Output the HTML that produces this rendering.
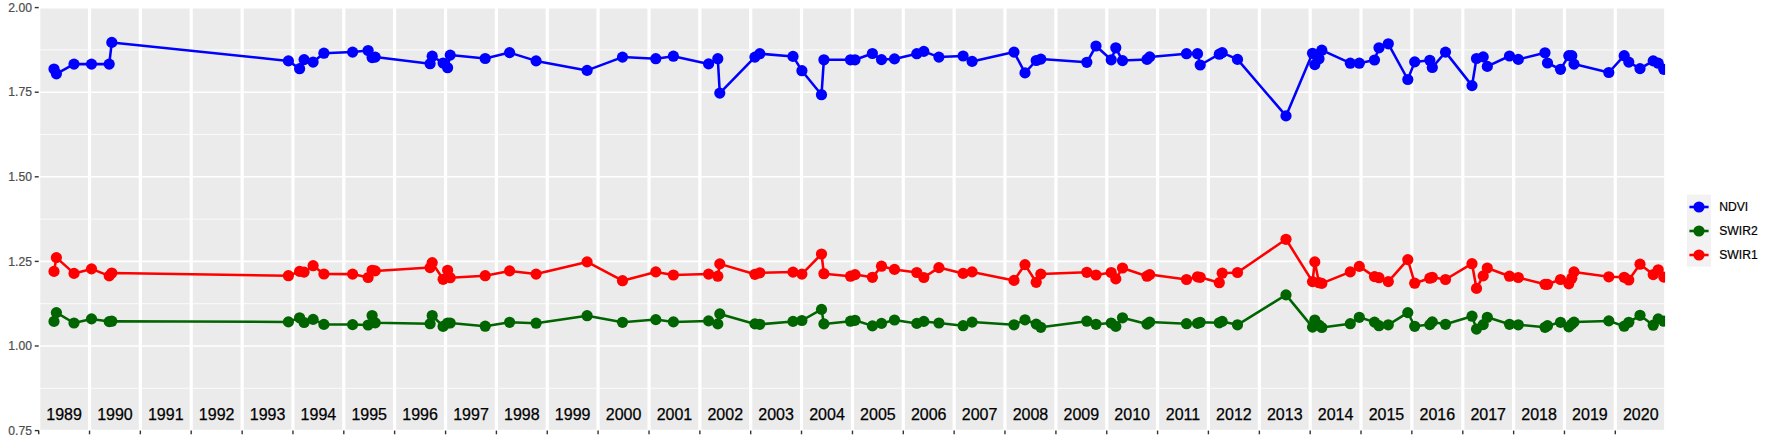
<!DOCTYPE html>
<html lang="en"><head><meta charset="utf-8"><title>Time series</title>
<style>html,body{margin:0;padding:0;background:#fff}svg{display:block}text{font-family:"Liberation Sans",Arial,Helvetica,sans-serif}.ya{font-size:12.15px;fill:#4d4d4d;text-anchor:end;stroke:#4d4d4d;stroke-width:0.2px}.xa{font-size:16px;fill:#000;text-anchor:middle;stroke:#000;stroke-width:0.25px}.lg{font-size:12.15px;fill:#000;stroke:#000;stroke-width:0.2px}</style></head><body>
<svg width="1773" height="442" viewBox="0 0 1773 442">
<rect width="1773" height="442" fill="#fff"/>
<defs><clipPath id="cp"><rect x="38.2" y="7.0" width="1626.90" height="424.00"/></clipPath></defs>
<rect x="38.7" y="7.6" width="1625.3999999999999" height="423.0" fill="#ebebeb"/>
<g clip-path="url(#cp)">
<g stroke="#fff" stroke-width="0.8">
<line x1="38.7" x2="1664.1" y1="49.90" y2="49.90"/>
<line x1="38.7" x2="1664.1" y1="134.50" y2="134.50"/>
<line x1="38.7" x2="1664.1" y1="219.10" y2="219.10"/>
<line x1="38.7" x2="1664.1" y1="303.70" y2="303.70"/>
<line x1="38.7" x2="1664.1" y1="388.30" y2="388.30"/>
</g>
<g stroke="#fff" stroke-width="1.6">
<line x1="38.7" x2="1664.1" y1="7.60" y2="7.60"/>
<line x1="38.7" x2="1664.1" y1="92.20" y2="92.20"/>
<line x1="38.7" x2="1664.1" y1="176.80" y2="176.80"/>
<line x1="38.7" x2="1664.1" y1="261.40" y2="261.40"/>
<line x1="38.7" x2="1664.1" y1="346.00" y2="346.00"/>
<line x1="38.7" x2="1664.1" y1="430.60" y2="430.60"/>
</g>
<g stroke="#fff" stroke-width="3.2">
<line x1="38.70" x2="38.70" y1="7.6" y2="430.6"/>
<line x1="89.53" x2="89.53" y1="7.6" y2="430.6"/>
<line x1="140.35" x2="140.35" y1="7.6" y2="430.6"/>
<line x1="191.18" x2="191.18" y1="7.6" y2="430.6"/>
<line x1="242.14" x2="242.14" y1="7.6" y2="430.6"/>
<line x1="292.97" x2="292.97" y1="7.6" y2="430.6"/>
<line x1="343.80" x2="343.80" y1="7.6" y2="430.6"/>
<line x1="394.62" x2="394.62" y1="7.6" y2="430.6"/>
<line x1="445.59" x2="445.59" y1="7.6" y2="430.6"/>
<line x1="496.41" x2="496.41" y1="7.6" y2="430.6"/>
<line x1="547.24" x2="547.24" y1="7.6" y2="430.6"/>
<line x1="598.07" x2="598.07" y1="7.6" y2="430.6"/>
<line x1="649.03" x2="649.03" y1="7.6" y2="430.6"/>
<line x1="699.86" x2="699.86" y1="7.6" y2="430.6"/>
<line x1="750.69" x2="750.69" y1="7.6" y2="430.6"/>
<line x1="801.51" x2="801.51" y1="7.6" y2="430.6"/>
<line x1="852.48" x2="852.48" y1="7.6" y2="430.6"/>
<line x1="903.30" x2="903.30" y1="7.6" y2="430.6"/>
<line x1="954.13" x2="954.13" y1="7.6" y2="430.6"/>
<line x1="1004.96" x2="1004.96" y1="7.6" y2="430.6"/>
<line x1="1055.92" x2="1055.92" y1="7.6" y2="430.6"/>
<line x1="1106.75" x2="1106.75" y1="7.6" y2="430.6"/>
<line x1="1157.57" x2="1157.57" y1="7.6" y2="430.6"/>
<line x1="1208.40" x2="1208.40" y1="7.6" y2="430.6"/>
<line x1="1259.37" x2="1259.37" y1="7.6" y2="430.6"/>
<line x1="1310.19" x2="1310.19" y1="7.6" y2="430.6"/>
<line x1="1361.02" x2="1361.02" y1="7.6" y2="430.6"/>
<line x1="1411.84" x2="1411.84" y1="7.6" y2="430.6"/>
<line x1="1462.81" x2="1462.81" y1="7.6" y2="430.6"/>
<line x1="1513.64" x2="1513.64" y1="7.6" y2="430.6"/>
<line x1="1564.46" x2="1564.46" y1="7.6" y2="430.6"/>
<line x1="1615.29" x2="1615.29" y1="7.6" y2="430.6"/>
</g>
<polyline fill="none" stroke="#0000ff" stroke-width="2.55" stroke-linejoin="round" points="54.0,69.0 56.4,73.8 74.0,64.1 91.5,64.1 109.2,64.1 111.8,42.4 288.4,60.9 299.6,68.7 304.1,59.6 313.1,62.1 323.9,53.2 352.6,52.1 368.1,50.5 372.1,57.6 375.2,57.1 430.1,63.7 432.2,56.2 443.1,63.0 447.6,67.7 450.2,55.1 485.2,58.5 509.6,52.6 536.1,60.9 587.1,70.4 622.5,57.1 655.8,58.7 673.4,56.2 708.6,63.9 717.8,58.7 719.8,93.1 754.9,57.1 759.8,53.7 793.0,56.4 801.9,70.7 821.5,94.7 823.9,59.8 850.5,59.8 855.0,59.8 872.4,53.5 881.5,59.6 894.5,58.9 916.8,53.7 923.8,51.4 938.9,57.1 963.1,56.0 972.1,61.4 1014.0,52.1 1025.0,72.9 1036.2,60.5 1040.8,59.1 1086.8,62.3 1096.0,46.0 1111.2,59.8 1115.8,47.8 1122.5,60.6 1147.0,59.4 1149.7,56.9 1186.5,53.7 1197.5,53.7 1200.2,65.0 1219.3,54.2 1222.2,52.6 1237.5,59.4 1286.0,115.9 1312.5,53.3 1314.8,64.6 1319.0,58.7 1321.8,50.2 1350.3,63.2 1359.3,63.2 1374.5,60.0 1379.0,47.8 1388.3,43.8 1407.8,79.5 1414.7,61.9 1429.8,60.3 1432.3,67.5 1445.5,52.1 1472.0,85.6 1476.5,58.5 1483.2,56.9 1487.3,66.4 1509.5,56.0 1518.3,59.4 1545.0,52.8 1547.5,63.0 1560.5,69.3 1568.8,55.7 1571.8,55.7 1574.0,64.1 1608.8,72.5 1624.2,55.7 1628.8,62.1 1640.0,68.6 1653.2,60.9 1658.2,63.2 1663.8,69.3"/>
<polyline fill="none" stroke="#006400" stroke-width="2.55" stroke-linejoin="round" points="54.0,321.4 56.4,312.6 74.0,323.0 91.5,318.9 109.2,321.6 111.8,321.2 288.4,321.9 299.6,317.8 304.1,322.5 313.1,319.4 323.9,324.4 352.6,324.6 368.1,325.0 372.1,315.5 375.2,322.8 430.1,323.7 432.2,315.5 443.1,326.4 447.6,323.0 450.2,323.0 485.2,326.2 509.6,322.3 536.1,323.2 587.1,315.7 622.5,322.3 655.8,319.6 673.4,321.9 708.6,320.9 717.8,323.9 719.8,313.9 754.9,323.9 759.8,324.3 793.0,321.4 801.9,320.5 821.5,309.4 823.9,323.9 850.5,321.2 855.0,320.3 872.4,325.9 881.5,323.4 894.5,320.0 916.8,323.4 923.8,321.4 938.9,323.0 963.1,325.7 972.1,322.1 1014.0,324.8 1025.0,319.8 1036.2,324.1 1040.8,327.3 1086.8,321.2 1096.0,324.3 1111.2,323.0 1115.8,326.4 1122.5,317.8 1147.0,324.1 1149.7,322.1 1186.5,323.7 1197.5,323.4 1200.2,322.3 1219.3,322.8 1222.2,321.4 1237.5,324.8 1286.0,294.9 1312.5,327.1 1314.8,320.0 1319.0,325.2 1321.8,327.5 1350.3,323.7 1359.3,317.3 1374.5,322.1 1379.0,325.7 1388.3,324.8 1407.8,312.6 1414.7,326.3 1429.8,324.6 1432.3,321.9 1445.5,324.3 1472.0,316.2 1476.5,329.1 1483.2,324.6 1487.3,317.3 1509.5,324.3 1518.3,324.8 1545.0,327.3 1547.5,325.7 1560.5,322.3 1568.8,326.8 1571.8,324.1 1574.0,322.1 1608.8,320.9 1624.2,326.2 1628.8,322.3 1640.0,315.3 1653.2,325.2 1658.2,318.9 1663.8,321.2"/>
<polyline fill="none" stroke="#ff0000" stroke-width="2.55" stroke-linejoin="round" points="54.0,271.4 56.4,257.6 74.0,273.4 91.5,268.9 109.2,275.9 111.8,273.0 288.4,275.7 299.6,271.4 304.1,272.1 313.1,265.7 323.9,274.0 352.6,274.1 368.1,277.5 372.1,270.3 375.2,270.9 430.1,267.6 432.2,262.6 443.1,279.3 447.6,270.3 450.2,277.7 485.2,275.7 509.6,270.9 536.1,274.1 587.1,261.9 622.5,280.7 655.8,271.9 673.4,275.0 708.6,274.1 717.8,276.2 719.8,263.9 754.9,274.3 759.8,272.8 793.0,272.1 801.9,274.1 821.5,254.0 823.9,273.7 850.5,276.2 855.0,274.6 872.4,277.3 881.5,266.2 894.5,269.4 916.8,272.5 923.8,277.5 938.9,267.6 963.1,273.4 972.1,271.9 1014.0,280.4 1025.0,264.6 1036.2,282.3 1040.8,274.1 1086.8,272.3 1096.0,275.0 1111.2,272.5 1115.8,278.9 1122.5,268.0 1147.0,276.2 1149.7,274.6 1186.5,279.5 1197.5,276.8 1200.2,277.3 1219.3,282.7 1222.2,273.2 1237.5,272.5 1286.0,239.3 1312.5,281.6 1314.8,261.9 1319.0,282.7 1321.8,283.4 1350.3,271.9 1359.3,266.4 1374.5,276.6 1379.0,277.7 1388.3,281.6 1407.8,259.6 1414.7,283.2 1429.8,278.2 1432.3,277.3 1445.5,279.5 1472.0,263.7 1476.5,288.4 1483.2,275.9 1487.3,268.0 1509.5,276.2 1518.3,277.5 1545.0,284.3 1547.5,284.3 1560.5,279.5 1568.8,283.8 1571.8,278.2 1574.0,271.9 1608.8,276.8 1624.2,277.3 1628.8,280.0 1640.0,264.2 1653.2,274.6 1658.2,269.8 1663.8,277.1"/>
<g fill="#0000ff">
<circle cx="54.0" cy="69.0" r="5.6"/>
<circle cx="56.4" cy="73.8" r="5.6"/>
<circle cx="74.0" cy="64.1" r="5.6"/>
<circle cx="91.5" cy="64.1" r="5.6"/>
<circle cx="109.2" cy="64.1" r="5.6"/>
<circle cx="111.8" cy="42.4" r="5.6"/>
<circle cx="288.4" cy="60.9" r="5.6"/>
<circle cx="299.6" cy="68.7" r="5.6"/>
<circle cx="304.1" cy="59.6" r="5.6"/>
<circle cx="313.1" cy="62.1" r="5.6"/>
<circle cx="323.9" cy="53.2" r="5.6"/>
<circle cx="352.6" cy="52.1" r="5.6"/>
<circle cx="368.1" cy="50.5" r="5.6"/>
<circle cx="372.1" cy="57.6" r="5.6"/>
<circle cx="375.2" cy="57.1" r="5.6"/>
<circle cx="430.1" cy="63.7" r="5.6"/>
<circle cx="432.2" cy="56.2" r="5.6"/>
<circle cx="443.1" cy="63.0" r="5.6"/>
<circle cx="447.6" cy="67.7" r="5.6"/>
<circle cx="450.2" cy="55.1" r="5.6"/>
<circle cx="485.2" cy="58.5" r="5.6"/>
<circle cx="509.6" cy="52.6" r="5.6"/>
<circle cx="536.1" cy="60.9" r="5.6"/>
<circle cx="587.1" cy="70.4" r="5.6"/>
<circle cx="622.5" cy="57.1" r="5.6"/>
<circle cx="655.8" cy="58.7" r="5.6"/>
<circle cx="673.4" cy="56.2" r="5.6"/>
<circle cx="708.6" cy="63.9" r="5.6"/>
<circle cx="717.8" cy="58.7" r="5.6"/>
<circle cx="719.8" cy="93.1" r="5.6"/>
<circle cx="754.9" cy="57.1" r="5.6"/>
<circle cx="759.8" cy="53.7" r="5.6"/>
<circle cx="793.0" cy="56.4" r="5.6"/>
<circle cx="801.9" cy="70.7" r="5.6"/>
<circle cx="821.5" cy="94.7" r="5.6"/>
<circle cx="823.9" cy="59.8" r="5.6"/>
<circle cx="850.5" cy="59.8" r="5.6"/>
<circle cx="855.0" cy="59.8" r="5.6"/>
<circle cx="872.4" cy="53.5" r="5.6"/>
<circle cx="881.5" cy="59.6" r="5.6"/>
<circle cx="894.5" cy="58.9" r="5.6"/>
<circle cx="916.8" cy="53.7" r="5.6"/>
<circle cx="923.8" cy="51.4" r="5.6"/>
<circle cx="938.9" cy="57.1" r="5.6"/>
<circle cx="963.1" cy="56.0" r="5.6"/>
<circle cx="972.1" cy="61.4" r="5.6"/>
<circle cx="1014.0" cy="52.1" r="5.6"/>
<circle cx="1025.0" cy="72.9" r="5.6"/>
<circle cx="1036.2" cy="60.5" r="5.6"/>
<circle cx="1040.8" cy="59.1" r="5.6"/>
<circle cx="1086.8" cy="62.3" r="5.6"/>
<circle cx="1096.0" cy="46.0" r="5.6"/>
<circle cx="1111.2" cy="59.8" r="5.6"/>
<circle cx="1115.8" cy="47.8" r="5.6"/>
<circle cx="1122.5" cy="60.6" r="5.6"/>
<circle cx="1147.0" cy="59.4" r="5.6"/>
<circle cx="1149.7" cy="56.9" r="5.6"/>
<circle cx="1186.5" cy="53.7" r="5.6"/>
<circle cx="1197.5" cy="53.7" r="5.6"/>
<circle cx="1200.2" cy="65.0" r="5.6"/>
<circle cx="1219.3" cy="54.2" r="5.6"/>
<circle cx="1222.2" cy="52.6" r="5.6"/>
<circle cx="1237.5" cy="59.4" r="5.6"/>
<circle cx="1286.0" cy="115.9" r="5.6"/>
<circle cx="1312.5" cy="53.3" r="5.6"/>
<circle cx="1314.8" cy="64.6" r="5.6"/>
<circle cx="1319.0" cy="58.7" r="5.6"/>
<circle cx="1321.8" cy="50.2" r="5.6"/>
<circle cx="1350.3" cy="63.2" r="5.6"/>
<circle cx="1359.3" cy="63.2" r="5.6"/>
<circle cx="1374.5" cy="60.0" r="5.6"/>
<circle cx="1379.0" cy="47.8" r="5.6"/>
<circle cx="1388.3" cy="43.8" r="5.6"/>
<circle cx="1407.8" cy="79.5" r="5.6"/>
<circle cx="1414.7" cy="61.9" r="5.6"/>
<circle cx="1429.8" cy="60.3" r="5.6"/>
<circle cx="1432.3" cy="67.5" r="5.6"/>
<circle cx="1445.5" cy="52.1" r="5.6"/>
<circle cx="1472.0" cy="85.6" r="5.6"/>
<circle cx="1476.5" cy="58.5" r="5.6"/>
<circle cx="1483.2" cy="56.9" r="5.6"/>
<circle cx="1487.3" cy="66.4" r="5.6"/>
<circle cx="1509.5" cy="56.0" r="5.6"/>
<circle cx="1518.3" cy="59.4" r="5.6"/>
<circle cx="1545.0" cy="52.8" r="5.6"/>
<circle cx="1547.5" cy="63.0" r="5.6"/>
<circle cx="1560.5" cy="69.3" r="5.6"/>
<circle cx="1568.8" cy="55.7" r="5.6"/>
<circle cx="1571.8" cy="55.7" r="5.6"/>
<circle cx="1574.0" cy="64.1" r="5.6"/>
<circle cx="1608.8" cy="72.5" r="5.6"/>
<circle cx="1624.2" cy="55.7" r="5.6"/>
<circle cx="1628.8" cy="62.1" r="5.6"/>
<circle cx="1640.0" cy="68.6" r="5.6"/>
<circle cx="1653.2" cy="60.9" r="5.6"/>
<circle cx="1658.2" cy="63.2" r="5.6"/>
<circle cx="1663.8" cy="69.3" r="5.6"/>
</g>
<g fill="#006400">
<circle cx="54.0" cy="321.4" r="5.6"/>
<circle cx="56.4" cy="312.6" r="5.6"/>
<circle cx="74.0" cy="323.0" r="5.6"/>
<circle cx="91.5" cy="318.9" r="5.6"/>
<circle cx="109.2" cy="321.6" r="5.6"/>
<circle cx="111.8" cy="321.2" r="5.6"/>
<circle cx="288.4" cy="321.9" r="5.6"/>
<circle cx="299.6" cy="317.8" r="5.6"/>
<circle cx="304.1" cy="322.5" r="5.6"/>
<circle cx="313.1" cy="319.4" r="5.6"/>
<circle cx="323.9" cy="324.4" r="5.6"/>
<circle cx="352.6" cy="324.6" r="5.6"/>
<circle cx="368.1" cy="325.0" r="5.6"/>
<circle cx="372.1" cy="315.5" r="5.6"/>
<circle cx="375.2" cy="322.8" r="5.6"/>
<circle cx="430.1" cy="323.7" r="5.6"/>
<circle cx="432.2" cy="315.5" r="5.6"/>
<circle cx="443.1" cy="326.4" r="5.6"/>
<circle cx="447.6" cy="323.0" r="5.6"/>
<circle cx="450.2" cy="323.0" r="5.6"/>
<circle cx="485.2" cy="326.2" r="5.6"/>
<circle cx="509.6" cy="322.3" r="5.6"/>
<circle cx="536.1" cy="323.2" r="5.6"/>
<circle cx="587.1" cy="315.7" r="5.6"/>
<circle cx="622.5" cy="322.3" r="5.6"/>
<circle cx="655.8" cy="319.6" r="5.6"/>
<circle cx="673.4" cy="321.9" r="5.6"/>
<circle cx="708.6" cy="320.9" r="5.6"/>
<circle cx="717.8" cy="323.9" r="5.6"/>
<circle cx="719.8" cy="313.9" r="5.6"/>
<circle cx="754.9" cy="323.9" r="5.6"/>
<circle cx="759.8" cy="324.3" r="5.6"/>
<circle cx="793.0" cy="321.4" r="5.6"/>
<circle cx="801.9" cy="320.5" r="5.6"/>
<circle cx="821.5" cy="309.4" r="5.6"/>
<circle cx="823.9" cy="323.9" r="5.6"/>
<circle cx="850.5" cy="321.2" r="5.6"/>
<circle cx="855.0" cy="320.3" r="5.6"/>
<circle cx="872.4" cy="325.9" r="5.6"/>
<circle cx="881.5" cy="323.4" r="5.6"/>
<circle cx="894.5" cy="320.0" r="5.6"/>
<circle cx="916.8" cy="323.4" r="5.6"/>
<circle cx="923.8" cy="321.4" r="5.6"/>
<circle cx="938.9" cy="323.0" r="5.6"/>
<circle cx="963.1" cy="325.7" r="5.6"/>
<circle cx="972.1" cy="322.1" r="5.6"/>
<circle cx="1014.0" cy="324.8" r="5.6"/>
<circle cx="1025.0" cy="319.8" r="5.6"/>
<circle cx="1036.2" cy="324.1" r="5.6"/>
<circle cx="1040.8" cy="327.3" r="5.6"/>
<circle cx="1086.8" cy="321.2" r="5.6"/>
<circle cx="1096.0" cy="324.3" r="5.6"/>
<circle cx="1111.2" cy="323.0" r="5.6"/>
<circle cx="1115.8" cy="326.4" r="5.6"/>
<circle cx="1122.5" cy="317.8" r="5.6"/>
<circle cx="1147.0" cy="324.1" r="5.6"/>
<circle cx="1149.7" cy="322.1" r="5.6"/>
<circle cx="1186.5" cy="323.7" r="5.6"/>
<circle cx="1197.5" cy="323.4" r="5.6"/>
<circle cx="1200.2" cy="322.3" r="5.6"/>
<circle cx="1219.3" cy="322.8" r="5.6"/>
<circle cx="1222.2" cy="321.4" r="5.6"/>
<circle cx="1237.5" cy="324.8" r="5.6"/>
<circle cx="1286.0" cy="294.9" r="5.6"/>
<circle cx="1312.5" cy="327.1" r="5.6"/>
<circle cx="1314.8" cy="320.0" r="5.6"/>
<circle cx="1319.0" cy="325.2" r="5.6"/>
<circle cx="1321.8" cy="327.5" r="5.6"/>
<circle cx="1350.3" cy="323.7" r="5.6"/>
<circle cx="1359.3" cy="317.3" r="5.6"/>
<circle cx="1374.5" cy="322.1" r="5.6"/>
<circle cx="1379.0" cy="325.7" r="5.6"/>
<circle cx="1388.3" cy="324.8" r="5.6"/>
<circle cx="1407.8" cy="312.6" r="5.6"/>
<circle cx="1414.7" cy="326.3" r="5.6"/>
<circle cx="1429.8" cy="324.6" r="5.6"/>
<circle cx="1432.3" cy="321.9" r="5.6"/>
<circle cx="1445.5" cy="324.3" r="5.6"/>
<circle cx="1472.0" cy="316.2" r="5.6"/>
<circle cx="1476.5" cy="329.1" r="5.6"/>
<circle cx="1483.2" cy="324.6" r="5.6"/>
<circle cx="1487.3" cy="317.3" r="5.6"/>
<circle cx="1509.5" cy="324.3" r="5.6"/>
<circle cx="1518.3" cy="324.8" r="5.6"/>
<circle cx="1545.0" cy="327.3" r="5.6"/>
<circle cx="1547.5" cy="325.7" r="5.6"/>
<circle cx="1560.5" cy="322.3" r="5.6"/>
<circle cx="1568.8" cy="326.8" r="5.6"/>
<circle cx="1571.8" cy="324.1" r="5.6"/>
<circle cx="1574.0" cy="322.1" r="5.6"/>
<circle cx="1608.8" cy="320.9" r="5.6"/>
<circle cx="1624.2" cy="326.2" r="5.6"/>
<circle cx="1628.8" cy="322.3" r="5.6"/>
<circle cx="1640.0" cy="315.3" r="5.6"/>
<circle cx="1653.2" cy="325.2" r="5.6"/>
<circle cx="1658.2" cy="318.9" r="5.6"/>
<circle cx="1663.8" cy="321.2" r="5.6"/>
</g>
<g fill="#ff0000">
<circle cx="54.0" cy="271.4" r="5.6"/>
<circle cx="56.4" cy="257.6" r="5.6"/>
<circle cx="74.0" cy="273.4" r="5.6"/>
<circle cx="91.5" cy="268.9" r="5.6"/>
<circle cx="109.2" cy="275.9" r="5.6"/>
<circle cx="111.8" cy="273.0" r="5.6"/>
<circle cx="288.4" cy="275.7" r="5.6"/>
<circle cx="299.6" cy="271.4" r="5.6"/>
<circle cx="304.1" cy="272.1" r="5.6"/>
<circle cx="313.1" cy="265.7" r="5.6"/>
<circle cx="323.9" cy="274.0" r="5.6"/>
<circle cx="352.6" cy="274.1" r="5.6"/>
<circle cx="368.1" cy="277.5" r="5.6"/>
<circle cx="372.1" cy="270.3" r="5.6"/>
<circle cx="375.2" cy="270.9" r="5.6"/>
<circle cx="430.1" cy="267.6" r="5.6"/>
<circle cx="432.2" cy="262.6" r="5.6"/>
<circle cx="443.1" cy="279.3" r="5.6"/>
<circle cx="447.6" cy="270.3" r="5.6"/>
<circle cx="450.2" cy="277.7" r="5.6"/>
<circle cx="485.2" cy="275.7" r="5.6"/>
<circle cx="509.6" cy="270.9" r="5.6"/>
<circle cx="536.1" cy="274.1" r="5.6"/>
<circle cx="587.1" cy="261.9" r="5.6"/>
<circle cx="622.5" cy="280.7" r="5.6"/>
<circle cx="655.8" cy="271.9" r="5.6"/>
<circle cx="673.4" cy="275.0" r="5.6"/>
<circle cx="708.6" cy="274.1" r="5.6"/>
<circle cx="717.8" cy="276.2" r="5.6"/>
<circle cx="719.8" cy="263.9" r="5.6"/>
<circle cx="754.9" cy="274.3" r="5.6"/>
<circle cx="759.8" cy="272.8" r="5.6"/>
<circle cx="793.0" cy="272.1" r="5.6"/>
<circle cx="801.9" cy="274.1" r="5.6"/>
<circle cx="821.5" cy="254.0" r="5.6"/>
<circle cx="823.9" cy="273.7" r="5.6"/>
<circle cx="850.5" cy="276.2" r="5.6"/>
<circle cx="855.0" cy="274.6" r="5.6"/>
<circle cx="872.4" cy="277.3" r="5.6"/>
<circle cx="881.5" cy="266.2" r="5.6"/>
<circle cx="894.5" cy="269.4" r="5.6"/>
<circle cx="916.8" cy="272.5" r="5.6"/>
<circle cx="923.8" cy="277.5" r="5.6"/>
<circle cx="938.9" cy="267.6" r="5.6"/>
<circle cx="963.1" cy="273.4" r="5.6"/>
<circle cx="972.1" cy="271.9" r="5.6"/>
<circle cx="1014.0" cy="280.4" r="5.6"/>
<circle cx="1025.0" cy="264.6" r="5.6"/>
<circle cx="1036.2" cy="282.3" r="5.6"/>
<circle cx="1040.8" cy="274.1" r="5.6"/>
<circle cx="1086.8" cy="272.3" r="5.6"/>
<circle cx="1096.0" cy="275.0" r="5.6"/>
<circle cx="1111.2" cy="272.5" r="5.6"/>
<circle cx="1115.8" cy="278.9" r="5.6"/>
<circle cx="1122.5" cy="268.0" r="5.6"/>
<circle cx="1147.0" cy="276.2" r="5.6"/>
<circle cx="1149.7" cy="274.6" r="5.6"/>
<circle cx="1186.5" cy="279.5" r="5.6"/>
<circle cx="1197.5" cy="276.8" r="5.6"/>
<circle cx="1200.2" cy="277.3" r="5.6"/>
<circle cx="1219.3" cy="282.7" r="5.6"/>
<circle cx="1222.2" cy="273.2" r="5.6"/>
<circle cx="1237.5" cy="272.5" r="5.6"/>
<circle cx="1286.0" cy="239.3" r="5.6"/>
<circle cx="1312.5" cy="281.6" r="5.6"/>
<circle cx="1314.8" cy="261.9" r="5.6"/>
<circle cx="1319.0" cy="282.7" r="5.6"/>
<circle cx="1321.8" cy="283.4" r="5.6"/>
<circle cx="1350.3" cy="271.9" r="5.6"/>
<circle cx="1359.3" cy="266.4" r="5.6"/>
<circle cx="1374.5" cy="276.6" r="5.6"/>
<circle cx="1379.0" cy="277.7" r="5.6"/>
<circle cx="1388.3" cy="281.6" r="5.6"/>
<circle cx="1407.8" cy="259.6" r="5.6"/>
<circle cx="1414.7" cy="283.2" r="5.6"/>
<circle cx="1429.8" cy="278.2" r="5.6"/>
<circle cx="1432.3" cy="277.3" r="5.6"/>
<circle cx="1445.5" cy="279.5" r="5.6"/>
<circle cx="1472.0" cy="263.7" r="5.6"/>
<circle cx="1476.5" cy="288.4" r="5.6"/>
<circle cx="1483.2" cy="275.9" r="5.6"/>
<circle cx="1487.3" cy="268.0" r="5.6"/>
<circle cx="1509.5" cy="276.2" r="5.6"/>
<circle cx="1518.3" cy="277.5" r="5.6"/>
<circle cx="1545.0" cy="284.3" r="5.6"/>
<circle cx="1547.5" cy="284.3" r="5.6"/>
<circle cx="1560.5" cy="279.5" r="5.6"/>
<circle cx="1568.8" cy="283.8" r="5.6"/>
<circle cx="1571.8" cy="278.2" r="5.6"/>
<circle cx="1574.0" cy="271.9" r="5.6"/>
<circle cx="1608.8" cy="276.8" r="5.6"/>
<circle cx="1624.2" cy="277.3" r="5.6"/>
<circle cx="1628.8" cy="280.0" r="5.6"/>
<circle cx="1640.0" cy="264.2" r="5.6"/>
<circle cx="1653.2" cy="274.6" r="5.6"/>
<circle cx="1658.2" cy="269.8" r="5.6"/>
<circle cx="1663.8" cy="277.1" r="5.6"/>
</g>
</g>
<g stroke="#333" stroke-width="1.4">
<line x1="34.75" x2="38.7" y1="7.60" y2="7.60"/>
<line x1="34.75" x2="38.7" y1="92.20" y2="92.20"/>
<line x1="34.75" x2="38.7" y1="176.80" y2="176.80"/>
<line x1="34.75" x2="38.7" y1="261.40" y2="261.40"/>
<line x1="34.75" x2="38.7" y1="346.00" y2="346.00"/>
<line x1="34.75" x2="38.7" y1="430.60" y2="430.60"/>
<line x1="38.70" x2="38.70" y1="430.6" y2="434.30"/>
<line x1="89.53" x2="89.53" y1="430.6" y2="434.30"/>
<line x1="140.35" x2="140.35" y1="430.6" y2="434.30"/>
<line x1="191.18" x2="191.18" y1="430.6" y2="434.30"/>
<line x1="242.14" x2="242.14" y1="430.6" y2="434.30"/>
<line x1="292.97" x2="292.97" y1="430.6" y2="434.30"/>
<line x1="343.80" x2="343.80" y1="430.6" y2="434.30"/>
<line x1="394.62" x2="394.62" y1="430.6" y2="434.30"/>
<line x1="445.59" x2="445.59" y1="430.6" y2="434.30"/>
<line x1="496.41" x2="496.41" y1="430.6" y2="434.30"/>
<line x1="547.24" x2="547.24" y1="430.6" y2="434.30"/>
<line x1="598.07" x2="598.07" y1="430.6" y2="434.30"/>
<line x1="649.03" x2="649.03" y1="430.6" y2="434.30"/>
<line x1="699.86" x2="699.86" y1="430.6" y2="434.30"/>
<line x1="750.69" x2="750.69" y1="430.6" y2="434.30"/>
<line x1="801.51" x2="801.51" y1="430.6" y2="434.30"/>
<line x1="852.48" x2="852.48" y1="430.6" y2="434.30"/>
<line x1="903.30" x2="903.30" y1="430.6" y2="434.30"/>
<line x1="954.13" x2="954.13" y1="430.6" y2="434.30"/>
<line x1="1004.96" x2="1004.96" y1="430.6" y2="434.30"/>
<line x1="1055.92" x2="1055.92" y1="430.6" y2="434.30"/>
<line x1="1106.75" x2="1106.75" y1="430.6" y2="434.30"/>
<line x1="1157.57" x2="1157.57" y1="430.6" y2="434.30"/>
<line x1="1208.40" x2="1208.40" y1="430.6" y2="434.30"/>
<line x1="1259.37" x2="1259.37" y1="430.6" y2="434.30"/>
<line x1="1310.19" x2="1310.19" y1="430.6" y2="434.30"/>
<line x1="1361.02" x2="1361.02" y1="430.6" y2="434.30"/>
<line x1="1411.84" x2="1411.84" y1="430.6" y2="434.30"/>
<line x1="1462.81" x2="1462.81" y1="430.6" y2="434.30"/>
<line x1="1513.64" x2="1513.64" y1="430.6" y2="434.30"/>
<line x1="1564.46" x2="1564.46" y1="430.6" y2="434.30"/>
<line x1="1615.29" x2="1615.29" y1="430.6" y2="434.30"/>
</g>
<text class="ya" transform="translate(31.9,11.80) scale(1,1.07)">2.00</text>
<text class="ya" transform="translate(31.9,96.40) scale(1,1.07)">1.75</text>
<text class="ya" transform="translate(31.9,181.00) scale(1,1.07)">1.50</text>
<text class="ya" transform="translate(31.9,265.60) scale(1,1.07)">1.25</text>
<text class="ya" transform="translate(31.9,350.20) scale(1,1.07)">1.00</text>
<text class="ya" transform="translate(31.9,434.80) scale(1,1.07)">0.75</text>
<text class="xa" x="64.11" y="420">1989</text>
<text class="xa" x="114.94" y="420">1990</text>
<text class="xa" x="165.77" y="420">1991</text>
<text class="xa" x="216.66" y="420">1992</text>
<text class="xa" x="267.56" y="420">1993</text>
<text class="xa" x="318.38" y="420">1994</text>
<text class="xa" x="369.21" y="420">1995</text>
<text class="xa" x="420.11" y="420">1996</text>
<text class="xa" x="471.00" y="420">1997</text>
<text class="xa" x="521.83" y="420">1998</text>
<text class="xa" x="572.65" y="420">1999</text>
<text class="xa" x="623.55" y="420">2000</text>
<text class="xa" x="674.45" y="420">2001</text>
<text class="xa" x="725.27" y="420">2002</text>
<text class="xa" x="776.10" y="420">2003</text>
<text class="xa" x="826.99" y="420">2004</text>
<text class="xa" x="877.89" y="420">2005</text>
<text class="xa" x="928.72" y="420">2006</text>
<text class="xa" x="979.54" y="420">2007</text>
<text class="xa" x="1030.44" y="420">2008</text>
<text class="xa" x="1081.33" y="420">2009</text>
<text class="xa" x="1132.16" y="420">2010</text>
<text class="xa" x="1182.99" y="420">2011</text>
<text class="xa" x="1233.88" y="420">2012</text>
<text class="xa" x="1284.78" y="420">2013</text>
<text class="xa" x="1335.60" y="420">2014</text>
<text class="xa" x="1386.43" y="420">2015</text>
<text class="xa" x="1437.33" y="420">2016</text>
<text class="xa" x="1488.22" y="420">2017</text>
<text class="xa" x="1539.05" y="420">2018</text>
<text class="xa" x="1589.88" y="420">2019</text>
<text class="xa" x="1640.77" y="420">2020</text>
<rect x="1687.0" y="194.7" width="24.0" height="72.0" fill="#f2f2f2"/>
<line x1="1689.4" x2="1708.6" y1="207.0" y2="207.0" stroke="#0000ff" stroke-width="2.55"/>
<circle cx="1699.0" cy="207.0" r="5.6" fill="#0000ff"/>
<text class="lg" transform="translate(1719.20,210.70) scale(1,1.07)">NDVI</text>
<line x1="1689.4" x2="1708.6" y1="231.0" y2="231.0" stroke="#006400" stroke-width="2.55"/>
<circle cx="1699.0" cy="231.0" r="5.6" fill="#006400"/>
<text class="lg" transform="translate(1719.20,234.70) scale(1,1.07)">SWIR2</text>
<line x1="1689.4" x2="1708.6" y1="255.0" y2="255.0" stroke="#ff0000" stroke-width="2.55"/>
<circle cx="1699.0" cy="255.0" r="5.6" fill="#ff0000"/>
<text class="lg" transform="translate(1719.20,258.70) scale(1,1.07)">SWIR1</text>
</svg></body></html>
